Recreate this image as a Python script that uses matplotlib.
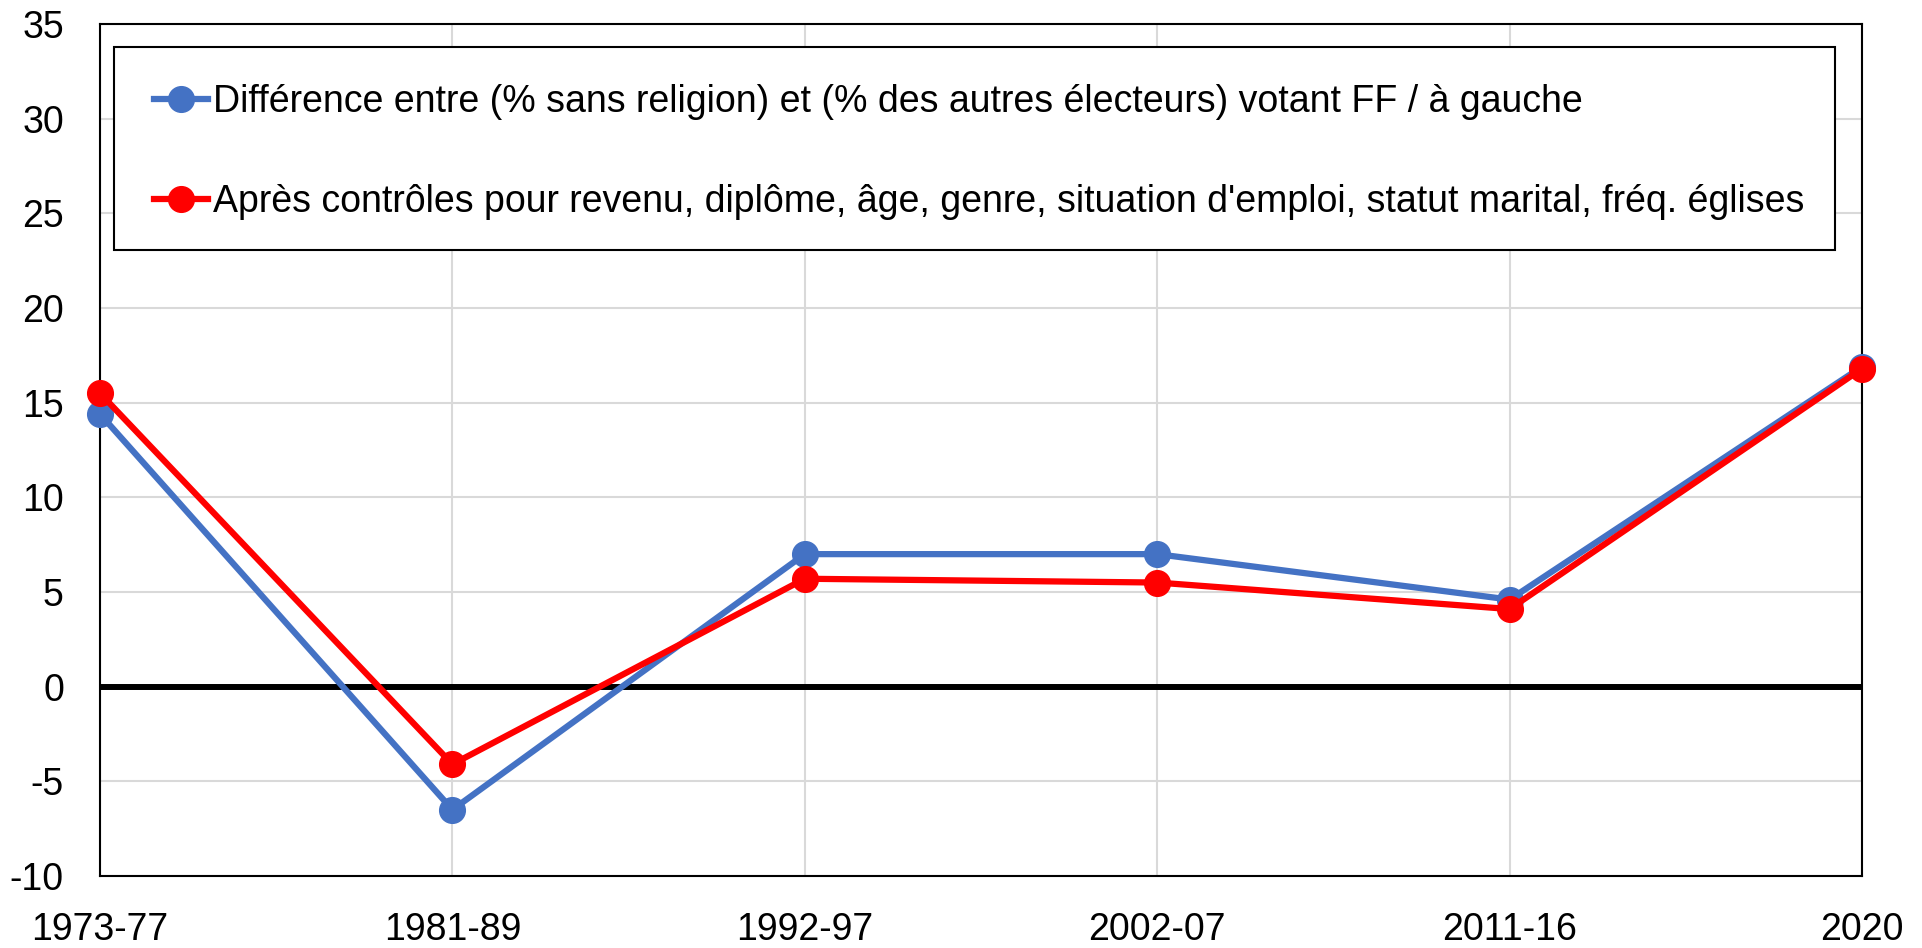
import matplotlib
matplotlib.use("Agg")
import matplotlib.pyplot as plt
from matplotlib.patches import Rectangle
import numpy as np

plt.rcParams['font.family'] = ['Liberation Sans', 'DejaVu Sans']
plt.rcParams['axes.unicode_minus'] = False

# periods on the x axis
periods = ["1973-77", "1981-89", "1992-97", "2002-07", "2011-16", "2020"]

# gap between non-religious voters and the rest (points)
raw_gap = [14.4, -6.5, 7.0, 7.0, 4.6, 16.9]
controlled_gap = [15.5, -4.1, 5.7, 5.5, 4.1, 16.8]

labels = [
    "Différence entre (% sans religion) et (% des autres électeurs) votant FF / à gauche",
    "Après contrôles pour revenu, diplôme, âge, genre, situation d'emploi, statut marital, fréq. églises",
]

W, H = 1922, 948
fig = plt.figure(figsize=(W / 100, H / 100), dpi=100)
ax = fig.add_axes([100 / W, 1 - 876 / H, 1762 / W, 852 / H])

x = np.arange(len(periods))

ax.axhline(0, color="black", lw=4.3, zorder=1.5)
ax.plot(x, raw_gap, color="#4472C4", lw=4.5, marker="o", ms=18.5,
        label=labels[0], zorder=3, clip_on=False)
ax.plot(x, controlled_gap, color="#FF0000", lw=4.5, marker="o", ms=18.5,
        label=labels[1], zorder=4, clip_on=False)

ax.set_xlim(0, len(periods) - 1)
ax.set_ylim(-10, 35)
ax.set_yticks(np.arange(-10, 36, 5))
ax.set_xticks(x)
ax.set_xticklabels(periods)

ax.grid(True, color="#d9d9d9", lw=1.5, zorder=0)
ax.set_axisbelow(True)
for s in ax.spines.values():
    s.set_color("black")
    s.set_linewidth(1.5)

ax.tick_params(axis="both", length=0, labelsize=27, colors="black")
ax.tick_params(axis="y", pad=26)
ax.tick_params(axis="x", pad=26)

# legend frame drawn separately so the padding can be set freely
box = Rectangle((114 / W, 1 - 250 / H), (1835 - 114) / W, (250 - 47) / H,
                transform=fig.transFigure, facecolor="white",
                edgecolor="black", lw=1.5, zorder=5)
fig.patches.append(box)

leg = fig.legend(loc="upper left", bbox_to_anchor=(154 / W, 1 - 84 / H),
                 borderaxespad=0, borderpad=0, fontsize=27, frameon=False,
                 handlelength=1.45, handletextpad=0.12, labelspacing=1.7)
leg.set_zorder(6)

fig.savefig("out.png", dpi=100)
